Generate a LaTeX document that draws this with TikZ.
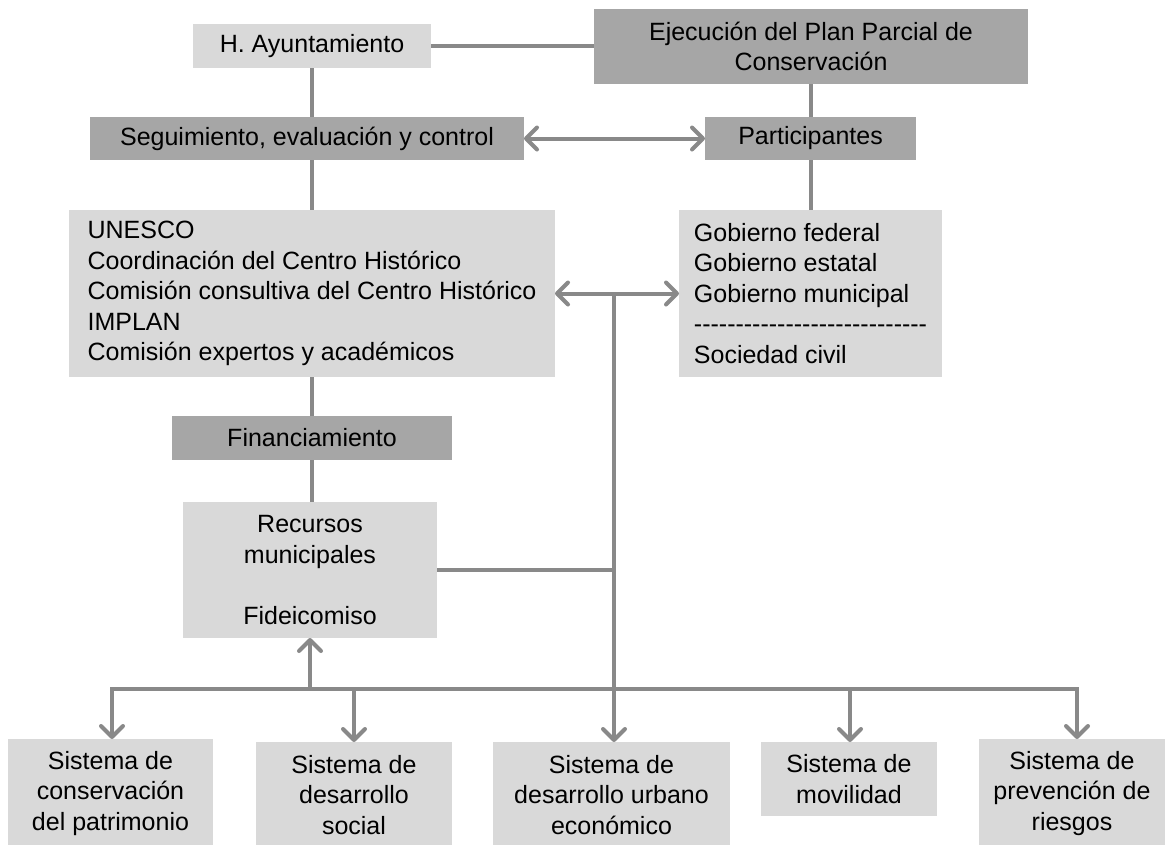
\documentclass[tikz,border=0pt]{standalone}
\usepackage{fontspec}
\setmainfont{Liberation Sans}
\usetikzlibrary{arrows.meta}
\definecolor{boxdark}{HTML}{A6A6A6}
\definecolor{boxlight}{HTML}{D9D9D9}
\definecolor{wire}{HTML}{898989}
% a row of plain hyphens (kerns keep them from joining into dashes)
\newcommand\hyphenrow[1]{\foreach \k in {1,...,#1}{-\kern0pt}}

\begin{document}
\begin{tikzpicture}[x=1pt,y=-1pt,
  font=\fontsize{25}{30.5}\selectfont,
  box/.style={inner sep=0pt, outer sep=0pt, align=center, text=black},
  dark/.style={box, fill=boxdark},
  light/.style={box, fill=boxlight},
  wireline/.style={draw=wire, line width=4pt},
  tipone/.style={wireline, -{Straight Barb[length=11pt,width=22pt,round]}},
  tiptwo/.style={wireline, {Straight Barb[length=11pt,width=22pt,round]}-{Straight Barb[length=11pt,width=22pt,round]}},
]
\useasboundingbox[fill=white] (0,0) rectangle (1167,844);

% upper chain
\node[light, minimum width=238pt, minimum height=44pt] (ayunt) at (312,46) {H. Ayuntamiento};
\node[dark, minimum width=434pt, minimum height=75pt] (ejec) at (811,46.5)
  {Ejecución del Plan Parcial de\\Conservación};
\node[dark, minimum width=434pt, minimum height=43pt] (seg) at (307,138.5)
  {Seguimiento, evaluación y control};
\node[dark, minimum width=211pt, minimum height=43pt] (part) at (810.5,138.5) {Participantes};

% member lists
\node[light, align=left, minimum width=486pt, minimum height=167pt] (unesco) at (312,293.5)
  {UNESCO\\Coordinación del Centro Histórico\\Comisión consultiva del Centro Histórico\\IMPLAN\\Comisión expertos y académicos};
\node[light, align=left, minimum width=263pt, minimum height=167pt] (gob) at (810.5,293.5)
  {Gobierno federal\\Gobierno estatal\\Gobierno municipal\\\hyphenrow{28}\\Sociedad civil};

% funding
\node[dark, minimum width=280pt, minimum height=44pt] (fin) at (312,438) {Financiamiento};
\node[light, minimum width=254pt, minimum height=136pt] (rec) at (310,570)
  {Recursos\\municipales\\\mbox{}\\Fideicomiso};

% systems
\node[light, minimum width=205pt, minimum height=109pt] (b1) at (110.5,793.5)
  {Sistema de\\conservación\\del patrimonio};
\node[light, minimum width=196pt, minimum height=106pt] (b2) at (354,795)
  {Sistema de\\desarrollo\\social};
\node[light, minimum width=237pt, minimum height=106pt] (b3) at (611.5,795)
  {Sistema de\\desarrollo urbano\\económico};
\node[light, minimum width=176pt, minimum height=74pt] (b4) at (849,779)
  {Sistema de\\movilidad};
\node[light, minimum width=186pt, minimum height=109pt] (b5) at (1072,793.5)
  {Sistema de\\prevención de\\riesgos};

% connectors
\draw[wireline] (ayunt.east) -- (ayunt.east -| ejec.west);
\draw[wireline] (ayunt.south) -- (ayunt.south |- seg.north);
\draw[wireline] (ayunt.south |- seg.south) -- (ayunt.south |- unesco.north);
\draw[wireline] (fin.north) -- (fin.north |- unesco.south);
\draw[wireline] (fin.south) -- (fin.south |- rec.north);
\draw[wireline] (part.north) -- (part.north |- ejec.south);
\draw[wireline] (part.south) -- (part.south |- gob.north);
\draw[tiptwo] (seg.east) -- (part.west);
\draw[tiptwo] (unesco.east) -- (gob.west);

\coordinate (j)  at (614,293.5);
\coordinate (jb) at (614,689);
\coordinate (d1) at (112,689);
\coordinate (d2) at (354,689);
\coordinate (d4) at (850,689);
\coordinate (d5) at (1077,689);

\draw[wireline] (j) -- (jb);
\draw[wireline] (rec.east) -- (rec.east -| j);
\draw[tiptwo] (d1 |- b1.north) -- (d1) -- (d5) -- (d5 |- b5.north);
\draw[tipone] (d2) -- (d2 |- b2.north);
\draw[tipone] (jb) -- (jb |- b3.north);
\draw[tipone] (d4) -- (d4 |- b4.north);
\draw[tipone] (rec.south |- jb) -- (rec.south);
\end{tikzpicture}
\end{document}
